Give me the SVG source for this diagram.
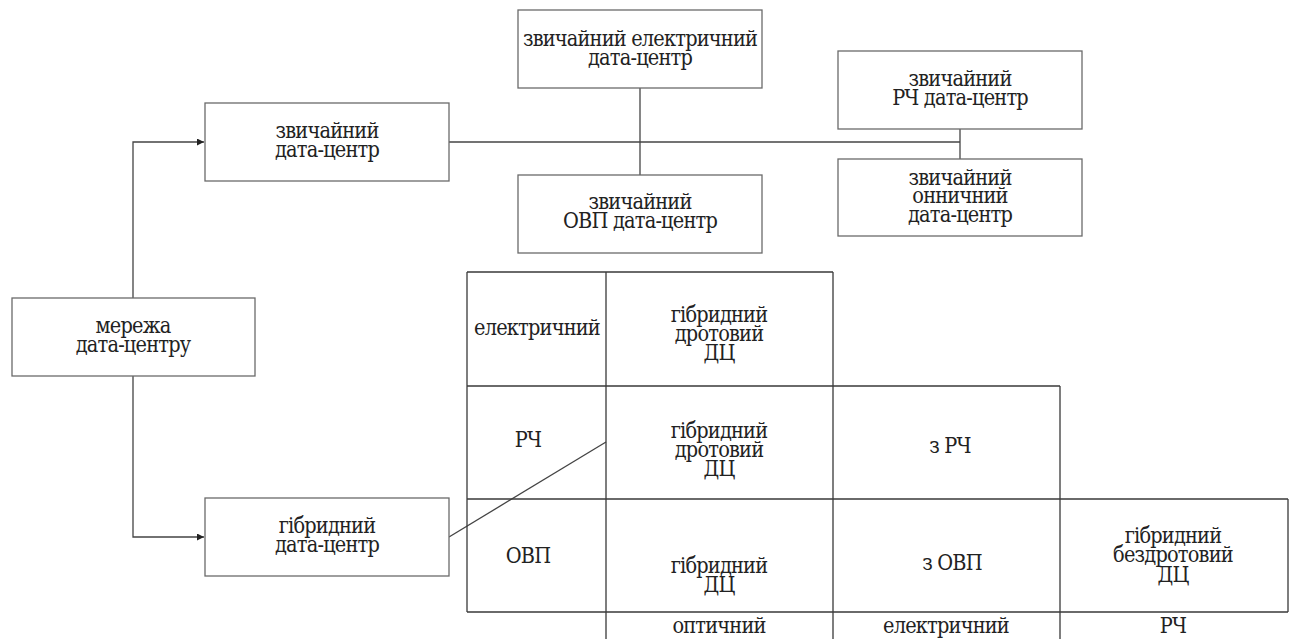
<svg xmlns="http://www.w3.org/2000/svg" width="1291" height="639" viewBox="0 0 1291 639">
  <defs>
    <marker id="arrow" viewBox="0 0 10 10" refX="10" refY="5" markerWidth="8" markerHeight="7" markerUnits="userSpaceOnUse" orient="auto">
      <path d="M0,0 L10,5 L0,10 Z" fill="#222"/>
    </marker>
  </defs>
  <style>
    .box { fill: #fff; stroke: #6a6a6a; stroke-width: 1.3; }
    .wire { fill: none; stroke: #444; stroke-width: 1.3; }
    .grid { fill: none; stroke: #3a3a3a; stroke-width: 1.3; }
    text { font-family: "DejaVu Serif Condensed", "DejaVu Serif", serif; font-stretch: condensed; font-size: 21.5px; letter-spacing: -0.8px; fill: #222; text-anchor: middle; }
  </style>
  <rect width="1291" height="639" fill="#fff"/>

  <!-- connectors -->
  <g id="connectors">
    <polyline class="wire" points="133,298 133,142 204,142" marker-end="url(#arrow)"/>
    <polyline class="wire" points="133,376 133,537 204,537" marker-end="url(#arrow)"/>
    <line class="wire" x1="449" y1="142" x2="960" y2="142"/>
    <line class="wire" x1="640" y1="88" x2="640" y2="175"/>
    <line class="wire" x1="960" y1="129" x2="960" y2="159"/>
    <line class="wire" x1="449" y1="537" x2="606" y2="442"/>
  </g>

  <g id="node-network">
    <rect class="box" x="12" y="298" width="243" height="78"/>
    <text x="133" y="333">мережа</text>
    <text x="133" y="352">дата-центру</text>
  </g>

  <g id="node-conventional">
    <rect class="box" x="205" y="103" width="244" height="78"/>
    <text x="327" y="138">звичайний</text>
    <text x="327" y="157">дата-центр</text>
  </g>

  <g id="node-hybrid">
    <rect class="box" x="205" y="498" width="244" height="78"/>
    <text x="327" y="533">гібридний</text>
    <text x="327" y="552">дата-центр</text>
  </g>

  <g id="node-conv-electric">
    <rect class="box" x="518" y="10" width="244" height="78"/>
    <text x="640" y="46">звичайний електричний</text>
    <text x="640" y="65">дата-центр</text>
  </g>

  <g id="node-conv-ovp">
    <rect class="box" x="518" y="175" width="244" height="78"/>
    <text x="640" y="209">звичайний</text>
    <text x="640" y="228">ОВП дата-центр</text>
  </g>

  <g id="node-conv-rf">
    <rect class="box" x="838" y="51" width="244" height="78"/>
    <text x="960" y="86">звичайний</text>
    <text x="960" y="105">РЧ дата-центр</text>
  </g>

  <g id="node-conv-ionic">
    <rect class="box" x="838" y="159" width="244" height="77"/>
    <text x="960" y="185">звичайний</text>
    <text x="960" y="203">онничний</text>
    <text x="960" y="222">дата-центр</text>
  </g>

  <!-- hybrid classification table -->
  <g id="hybrid-table">
    <path class="grid" d="M467,272 H833 M467,386 H1060 M467,499 H1288 M467,612 H1288
                          M467,272 V612 M606,272 V639 M833,272 V639 M1060,386 V639 M1288,499 V612"/>
    <text x="537" y="335">електричний</text>
    <text x="528" y="447">РЧ</text>
    <text x="528" y="563">ОВП</text>

    <text x="719" y="322">гібридний</text>
    <text x="719" y="341">дротовий</text>
    <text x="719" y="360">ДЦ</text>

    <text x="719" y="438">гібридний</text>
    <text x="719" y="457">дротовий</text>
    <text x="719" y="476">ДЦ</text>

    <text x="719" y="573">гібридний</text>
    <text x="719" y="592">ДЦ</text>

    <text x="950" y="453">з РЧ</text>
    <text x="952" y="570">з ОВП</text>

    <text x="1173" y="543">гібридний</text>
    <text x="1173" y="562">бездротовий</text>
    <text x="1173" y="582">ДЦ</text>

    <text x="719" y="633">оптичний</text>
    <text x="946" y="633">електричний</text>
    <text x="1173" y="633">РЧ</text>
  </g>
</svg>
